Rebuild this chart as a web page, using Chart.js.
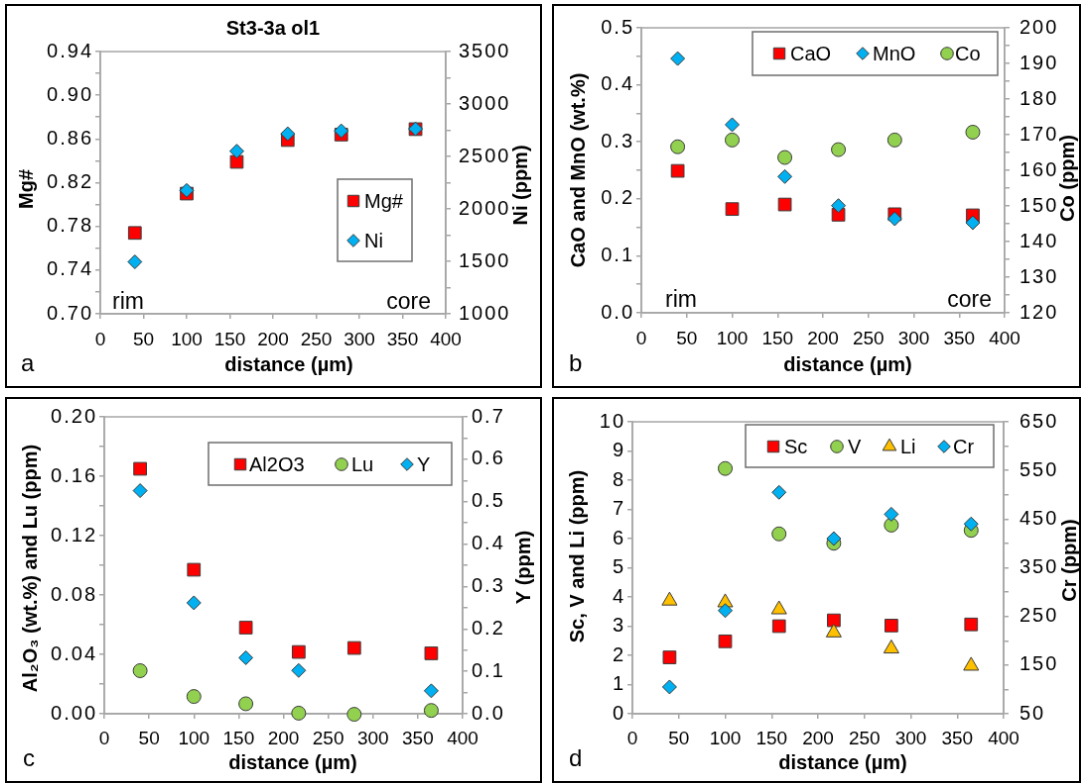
<!DOCTYPE html>
<html>
<head>
<meta charset="utf-8">
<script src="https://cdn.jsdelivr.net/npm/chart.js@4.4.1/dist/chart.umd.min.js"></script>
<style>
  html, body { margin: 0; padding: 0; background: #fff; overflow: hidden; }
  body { width: 1085px; height: 784px; position: relative; }
  canvas { position: absolute; border: 2px solid #000; background: #fff; }
  #panelA { left: 5px; top: 4px; }
  #panelB { left: 552px; top: 4px; }
  #panelC { left: 5px; top: 397px; }
  #panelD { left: 552px; top: 397px; }
</style>
</head>
<body>
<canvas id="panelA" width="537" height="384"></canvas>
<canvas id="panelB" width="529" height="384"></canvas>
<canvas id="panelC" width="537" height="386"></canvas>
<canvas id="panelD" width="529" height="386"></canvas>
<script>
// sampling positions along the traverse, rim -> core (µm)
const distance = [40, 100, 158, 217, 279, 365];

// a: Mg# and Ni
const mgNumber = [0.774, 0.810, 0.839, 0.859, 0.864, 0.869];
const niPpm = [1495, 2176, 2550, 2716, 2744, 2763];

// b: CaO, MnO (wt.%) and Co (ppm)
const caoWt = [0.249, 0.182, 0.190, 0.172, 0.173, 0.171];
const mnoWt = [0.446, 0.330, 0.239, 0.188, 0.165, 0.158];
const coPpm = [166.6, 168.5, 163.6, 165.8, 168.5, 170.7];

// c: Al2O3 (wt.%), Lu and Y (ppm)
const al2o3Wt = [0.165, 0.097, 0.058, 0.0416, 0.0443, 0.0407];
const luPpm = [0.029, 0.0116, 0.0067, 0.0004, -0.0004, 0.0022];
const yPpm = [0.526, 0.2615, 0.132, 0.102, null, 0.054];

// d: Sc, V, Li and Cr (ppm)
const scPpm = [1.93, 2.48, 3.0, 3.2, 3.02, 3.06];
const vPpm = [null, 8.40, 6.16, 5.84, 6.46, 6.28];
const liPpm = [3.87, 3.81, 3.57, 2.78, 2.23, 1.64];
const crPpm = [105, 262, 505, 410, 460, 440];

const FONT = "'Liberation Sans', Arial, sans-serif";
const AXIS_GREY = '#a6a6a6';
const EDGE = '#3a3a3a';

Chart.defaults.font.family = FONT;
Chart.defaults.color = '#000';

const marks = {
  square: { pointStyle: 'rect', radius: 9, color: '#ff0000' },
  diamond: { pointStyle: 'rectRot', radius: 7, color: '#00b0f0' },
  circle: { pointStyle: 'circle', radius: 7, color: '#92d050' },
  triangle: { pointStyle: 'triangle', radius: 8.7, color: '#ffc000' },
};

function seriesDataset(s, order) {
  return {
    label: s.label,
    data: distance.map((x, k) => ({ x, y: s.values[k] })).filter((p) => p.y !== null),
    yAxisID: s.axis,
    pointStyle: s.mark.pointStyle,
    pointRadius: s.mark.radius,
    pointHoverRadius: s.mark.radius,
    backgroundColor: s.mark.color,
    borderColor: EDGE,
    borderWidth: 1,
    clip: false,
    order,
  };
}

function valueAxis(position, a) {
  return {
    type: 'linear',
    position,
    min: a.min,
    max: a.max,
    grid: { drawOnChartArea: false, drawTicks: true, tickLength: 5, color: AXIS_GREY, lineWidth: 1.5 },
    border: { color: AXIS_GREY, width: 1.5 },
    ticks: {
      stepSize: a.step,
      autoSkip: false,
      padding: a.pad,
      font: { size: 20 },
      callback: (v, i) => (i % a.every === 0 ? v.toFixed(a.digits) : ''),
    },
    afterFit: (scale) => { scale.width = a.width; },
  };
}

function distanceAxis(height, pad) {
  return {
    type: 'linear',
    position: 'bottom',
    min: 0,
    max: 400,
    grid: { drawOnChartArea: false, drawTicks: true, tickLength: 5, color: AXIS_GREY, lineWidth: 1.5 },
    border: { color: AXIS_GREY, width: 1.5 },
    // labels on their own layer, drawn after the points with normal spacing
    ticks: { stepSize: 50, autoSkip: false, padding: pad, maxRotation: 0, font: { size: 19 }, z: 1 },
    afterFit: (scale) => { scale.height = height; },
  };
}

// the value-axis numbers are set a little wide
const tickSpacing = {
  id: 'tickSpacing',
  beforeDraw(chart) {
    chart.ctx.letterSpacing = '2px';
  },
  afterDatasetsDraw(chart) {
    chart.ctx.letterSpacing = '0px';
  },
};

// grey outline round the plotting area
const plotFrame = {
  id: 'plotFrame',
  beforeDatasetsDraw(chart) {
    const { ctx, chartArea: a } = chart;
    ctx.save();
    ctx.strokeStyle = AXIS_GREY;
    ctx.lineWidth = 1.5;
    ctx.strokeRect(a.left, a.top, a.right - a.left, a.bottom - a.top);
    ctx.restore();
  },
};

// axis titles, chart title, panel letter and rim / core notes
function panelText(items) {
  return {
    id: 'panelText',
    afterDraw(chart) {
      const { ctx } = chart;
      items.forEach((t) => {
        ctx.save();
        ctx.letterSpacing = '0px';
        ctx.translate(t.x, t.y);
        if (t.rotate) ctx.rotate(t.rotate);
        ctx.font = `${t.bold ? 'bold ' : ''}${t.size}px ${FONT}`;
        ctx.fillStyle = '#000';
        ctx.textAlign = t.align || 'center';
        ctx.textBaseline = t.baseline || 'middle';
        ctx.fillText(t.text, 0, 0);
        ctx.restore();
      });
    },
  };
}

// framed legend sitting inside the plot
function boxedLegend(box, entries) {
  return {
    id: 'boxedLegend',
    afterDatasetsDraw(chart) {
      const { ctx } = chart;
      ctx.save();
      ctx.letterSpacing = '0px';
      ctx.fillStyle = '#fff';
      ctx.fillRect(box.x, box.y, box.w, box.h);
      ctx.strokeStyle = '#6f6f6f';
      ctx.lineWidth = 1.5;
      ctx.strokeRect(box.x, box.y, box.w, box.h);
      entries.forEach((e, i) => {
        const ds = chart.data.datasets[i];
        ctx.fillStyle = ds.backgroundColor;
        ctx.strokeStyle = ds.borderColor;
        ctx.lineWidth = ds.borderWidth;
        Chart.helpers.drawPoint(ctx, {
          pointStyle: ds.pointStyle, radius: ds.pointRadius * 0.9, rotation: 0, borderWidth: 1,
        }, e.mx, e.my);
        ctx.fillStyle = '#000';
        ctx.font = `20px ${FONT}`;
        ctx.textAlign = 'left';
        ctx.textBaseline = 'middle';
        ctx.fillText(ds.label, e.tx, e.my + 1);
      });
      ctx.restore();
    },
  };
}

function makePanel(id, p) {
  const n = p.series.length;
  return new Chart(document.getElementById(id), {
    type: 'scatter',
    data: { datasets: p.series.map((s, i) => seriesDataset(s, n - i)) },
    options: {
      responsive: false,
      animation: false,
      events: [],
      layout: { padding: { top: p.top, left: 0, right: 0, bottom: 0 } },
      plugins: { legend: { display: false }, tooltip: { enabled: false } },
      scales: {
        x: distanceAxis(p.xHeight, p.xPad),
        y: valueAxis('left', p.left),
        y2: valueAxis('right', p.right),
      },
    },
    plugins: [tickSpacing, plotFrame, panelText(p.texts), boxedLegend(p.legendBox, p.legendItems)],
  });
}

const UP = -Math.PI / 2;

makePanel('panelA', {
  series: [
    { label: 'Mg#', values: mgNumber, axis: 'y', mark: marks.square },
    { label: 'Ni', values: niPpm, axis: 'y2', mark: marks.diamond },
  ],
  top: 46,
  xHeight: 73,
  xPad: 10,
  left: { min: 0.70, max: 0.94, step: 0.02, digits: 2, every: 2, pad: 2, width: 94 },
  right: { min: 1000, max: 3500, step: 250, digits: 0, every: 2, pad: 8, width: 95 },
  texts: [
    { text: 'St3-3a ol1', x: 268, y: 23, size: 20, bold: true },
    { text: 'Mg#', x: 20, y: 185, size: 20, bold: true, rotate: UP },
    { text: 'Ni (ppm)', x: 518, y: 181, size: 20, bold: true, rotate: UP },
    { text: 'distance (µm)', x: 284, y: 363, size: 20, bold: true },
    { text: 'a', x: 14, y: 369, size: 24, align: 'left', baseline: 'alphabetic' },
    { text: 'rim', x: 106, y: 306, size: 23, align: 'left', baseline: 'alphabetic' },
    { text: 'core', x: 427, y: 306, size: 23, align: 'right', baseline: 'alphabetic' },
  ],
  legendBox: { x: 333, y: 175, w: 75, h: 83 },
  legendItems: [{ mx: 349, my: 197, tx: 360 }, { mx: 349, my: 237, tx: 360 }],
});

makePanel('panelB', {
  series: [
    { label: 'CaO', values: caoWt, axis: 'y', mark: marks.square },
    { label: 'MnO', values: mnoWt, axis: 'y', mark: marks.diamond },
    { label: 'Co', values: coPpm, axis: 'y2', mark: marks.circle },
  ],
  top: 19,
  xHeight: 74,
  xPad: 10,
  left: { min: 0, max: 0.5, step: 0.05, digits: 1, every: 2, pad: 2, width: 88 },
  right: { min: 120, max: 200, step: 5, digits: 0, every: 2, pad: 10, width: 75 },
  texts: [
    { text: 'CaO and MnO (wt.%)', x: 25, y: 166, size: 20, bold: true, rotate: UP },
    { text: 'Co (ppm)', x: 518, y: 174, size: 20, bold: true, rotate: UP },
    { text: 'distance (µm)', x: 296, y: 363, size: 20, bold: true },
    { text: 'b', x: 15, y: 369, size: 24, align: 'left', baseline: 'alphabetic' },
    { text: 'rim', x: 112, y: 304, size: 23, align: 'left', baseline: 'alphabetic' },
    { text: 'core', x: 441, y: 304, size: 23, align: 'right', baseline: 'alphabetic' },
  ],
  legendBox: { x: 200, y: 26, w: 247, h: 44 },
  legendItems: [{ mx: 227, my: 48, tx: 238 }, { mx: 311, my: 48, tx: 321 }, { mx: 396, my: 48, tx: 404 }],
});

makePanel('panelC', {
  series: [
    { label: 'Al2O3', values: al2o3Wt, axis: 'y', mark: marks.square },
    { label: 'Lu', values: luPpm, axis: 'y', mark: marks.circle },
    { label: 'Y', values: yPpm, axis: 'y2', mark: marks.diamond },
  ],
  top: 18,
  xHeight: 68,
  xPad: 9,
  left: { min: 0, max: 0.2, step: 0.02, digits: 2, every: 2, pad: 2, width: 98 },
  right: { min: 0, max: 0.7, step: 0.05, digits: 1, every: 2, pad: 4, width: 78 },
  texts: [
    { text: 'Al₂O₃ (wt.%) and Lu (ppm)', x: 24, y: 171, size: 20, bold: true, rotate: UP },
    { text: 'Y (ppm)', x: 521, y: 170, size: 20, bold: true, rotate: UP },
    { text: 'distance (µm)', x: 288, y: 368, size: 20, bold: true },
    { text: 'c', x: 16, y: 371, size: 24, align: 'left', baseline: 'alphabetic' },
  ],
  legendBox: { x: 203, y: 44, w: 245, h: 43 },
  legendItems: [{ mx: 235, my: 66, tx: 244 }, { mx: 337, my: 66, tx: 347 }, { mx: 403, my: 66, tx: 413 }],
});

makePanel('panelD', {
  series: [
    { label: 'Sc', values: scPpm, axis: 'y', mark: marks.square },
    { label: 'V', values: vPpm, axis: 'y', mark: marks.circle },
    { label: 'Li', values: liPpm, axis: 'y', mark: marks.triangle },
    { label: 'Cr', values: crPpm, axis: 'y2', mark: marks.diamond },
  ],
  top: 18,
  xHeight: 68,
  xPad: 9,
  left: { min: 0, max: 10, step: 1, digits: 0, every: 1, pad: 2, width: 79 },
  right: { min: 50, max: 650, step: 50, digits: 0, every: 2, pad: 11, width: 76 },
  texts: [
    { text: 'Sc, V and Li (ppm)', x: 24, y: 159, size: 20, bold: true, rotate: UP },
    { text: 'Cr (ppm)', x: 520, y: 163, size: 20, bold: true, rotate: UP },
    { text: 'distance (µm)', x: 291, y: 368, size: 20, bold: true },
    { text: 'd', x: 15, y: 371, size: 24, align: 'left', baseline: 'alphabetic' },
  ],
  legendBox: { x: 193, y: 26, w: 250, h: 43 },
  legendItems: [
    { mx: 221, my: 48, tx: 232 }, { mx: 285, my: 48, tx: 296 },
    { mx: 338, my: 48, tx: 349 }, { mx: 393, my: 48, tx: 402 },
  ],
});
</script>
</body>
</html>
